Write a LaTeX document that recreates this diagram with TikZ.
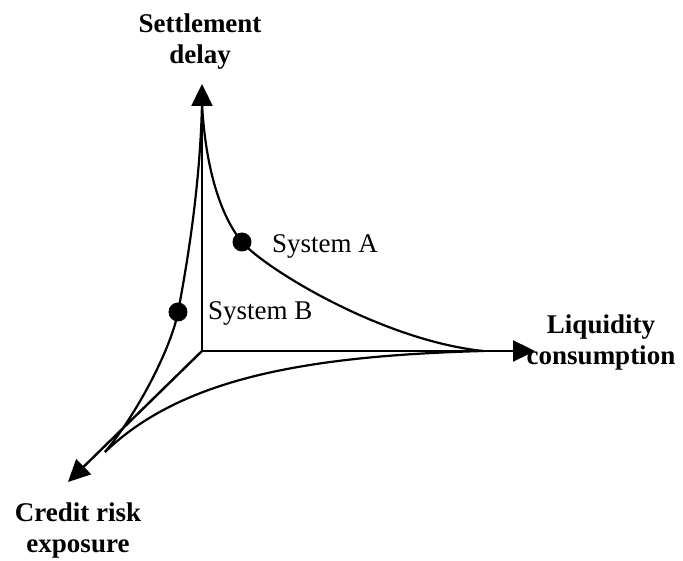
\documentclass[tikz,border=0pt]{standalone}
\usepackage{fontspec}
\setmainfont{Liberation Serif}
\usetikzlibrary{arrows.meta}
\tikzset{
  axis/.style={line width=2.4pt,-{Triangle[length=22pt,width=21pt]}},
  tradeoff/.style={line width=2.2pt},
  sysdot/.style={circle,fill=black,inner sep=0pt,minimum size=19pt},
  axislabel/.style={align=center,inner sep=0pt,font=\fontsize{27}{31}\selectfont\bfseries},
  syslabel/.style={anchor=base west,inner sep=0pt,font=\fontsize{27}{31}\selectfont}
}
\begin{document}
\begin{tikzpicture}[x=1pt,y=-1pt]
            \useasboundingbox (0,0) rectangle (683,561);
            % axes
            \coordinate (origin) at (202,351);
            \coordinate (delaytip) at (202,84);
            \coordinate (liqtip) at (535,351);
            \coordinate (credtip) at (68,482);
            \draw[axis] (origin) -- (delaytip);
            \draw[axis] (origin) -- (liqtip);
            \draw[axis] (origin) -- (credtip);
            % axis labels
            \node[axislabel] (delaylabel) at (200,42) {Settlement\\delay};
            \node[axislabel] (liqlabel) at (601,343) {Liquidity\\consumption};
            \node[axislabel] (credlabel) at (78,531) {Credit risk\\exposure};
            % curve ends
            \coordinate (top) at (202,104);
            \coordinate (right) at (483,351);
            \coordinate (left) at (105,452);
            % systems
            \node[sysdot] (sysA) at (242,242) {};
            \node[sysdot] (sysB) at (178,312) {};
            \node[syslabel] (sysAlabel) at (272,253) {System A};
            \node[syslabel] (sysBlabel) at (208,320) {System B};
            % trade-off curves
            \draw[tradeoff] (top) .. controls (206,175) and (223,219) .. (sysA.center)
              .. controls (263,267) and (380,340) .. (right);
            \draw[tradeoff] (top) .. controls (200,190) and (186,270) .. (sysB.center)
              .. controls (172,345) and (140,410) .. (left);
            \draw[tradeoff] (right) .. controls (300,356) and (180,380) .. (left);
          \end{tikzpicture}
\end{document}
